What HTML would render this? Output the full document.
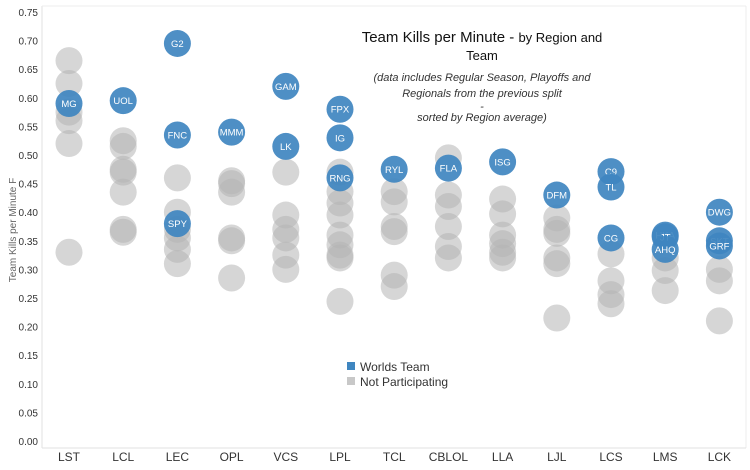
<!DOCTYPE html>
<html><head><meta charset="utf-8"><style>
body{margin:0;background:#fff;font-family:"Liberation Sans",sans-serif;}
svg{display:block}
</style></head><body>
<svg id="chart" width="750" height="470" xmlns="http://www.w3.org/2000/svg">
<rect x="0" y="0" width="750" height="470" fill="#fff"/>
<line x1="42" y1="6" x2="42" y2="448" stroke="#e2e2e2"/>
<line x1="746" y1="6" x2="746" y2="448" stroke="#ececec"/>
<line x1="42" y1="6" x2="746" y2="6" stroke="#ececec"/>
<line x1="42" y1="448" x2="746" y2="448" stroke="#e2e2e2"/>
<g id="yticks"></g><g id="xticks"></g><g id="marks"></g>
<text x="16" y="230" transform="rotate(-90 16 230)" font-size="10" fill="#666" text-anchor="middle">Team Kills per Minute F</text>
<g>
<text x="482" y="42" font-size="15" fill="#111" text-anchor="middle">Team Kills per Minute - <tspan font-size="13">by Region and</tspan></text>
<text x="482" y="60" font-size="13" fill="#111" text-anchor="middle">Team</text>
</g>
<g font-size="11" font-style="italic" fill="#333" text-anchor="middle">
<text x="482" y="81">(data includes Regular Season, Playoffs and</text>
<text x="482" y="97">Regionals from the previous split</text>
<text x="482" y="110">-</text>
<text x="482" y="121">sorted by Region average)</text>
</g>
<g>
<rect x="347" y="362" width="8" height="8" fill="#3f86c0"/>
<text x="360" y="371" font-size="12" fill="#333">Worlds Team</text>
<rect x="347" y="377" width="8" height="8" fill="#c8c8c8"/>
<text x="360" y="386" font-size="12" fill="#333">Not Participating</text>
</g>
</svg>
<script>
const categories=["LST","LCL","LEC","OPL","VCS","LPL","TCL","CBLOL","LLA","LJL","LCS","LMS","LCK"];
const greyValues=[
[0.665,0.625,0.575,0.56,0.52,0.33],
[0.525,0.515,0.475,0.47,0.435,0.37,0.365],
[0.46,0.40,0.37,0.355,0.335,0.31],
[0.455,0.45,0.435,0.355,0.35,0.285],
[0.47,0.395,0.37,0.355,0.325,0.30],
[0.47,0.436,0.416,0.395,0.36,0.343,0.325,0.32,0.244],
[0.436,0.418,0.375,0.366,0.29,0.27],
[0.495,0.43,0.41,0.375,0.34,0.32],
[0.423,0.397,0.36,0.345,0.33,0.32],
[0.39,0.37,0.363,0.32,0.31,0.215],
[0.327,0.28,0.256,0.24],
[0.32,0.298,0.263],
[0.30,0.28,0.21]];
const worldsCat=["LST","LCL","LEC","LEC","LEC","OPL","VCS","VCS","LPL","LPL","LPL","TCL","CBLOL","LLA","LJL","LCS","LCS","LCS","LMS","LMS","LMS","LCK","LCK","LCK"];
const worldsTeam=["MG","UOL","G2","FNC","SPY","MMM","GAM","LK","FPX","IG","RNG","RYL","FLA","ISG","DFM","C9","TL","CG","HKA","JT","AHQ","DWG","SKT","GRF"];
const worldsValue=[0.59,0.595,0.695,0.535,0.38,0.54,0.62,0.515,0.58,0.53,0.46,0.475,0.477,0.488,0.43,0.471,0.444,0.355,0.36,0.357,0.335,0.40,0.35,0.341];
const yTicks=[0,0.05,0.10,0.15,0.20,0.25,0.30,0.35,0.40,0.45,0.50,0.55,0.60,0.65,0.70,0.75];

const NS="http://www.w3.org/2000/svg";
const yScale=v=>441-v*572;
const xScale=c=>69+categories.indexOf(c)*54.2;
function mk(tag,attrs,parent){const e=document.createElementNS(NS,tag);for(const k in attrs)e.setAttribute(k,attrs[k]);parent.appendChild(e);return e;}
const yt=document.getElementById('yticks'),xt=document.getElementById('xticks'),mg=document.getElementById('marks');
yTicks.forEach(v=>{const t=mk('text',{x:38,y:yScale(v)+4,'font-size':10,fill:'#333','text-anchor':'end'},yt);t.textContent=v.toFixed(2);

});
categories.forEach(c=>{const t=mk('text',{x:xScale(c),y:461,'font-size':12,fill:'#333','text-anchor':'middle'},xt);t.textContent=c;

});
greyValues.forEach((arr,i)=>arr.forEach(v=>{const c=mk('circle',{cx:xScale(categories[i]),cy:yScale(v),r:13.5,fill:'#b4b4b4','fill-opacity':0.55},mg);

}));
worldsTeam.forEach((t,i)=>{const g=mk('g',{},mg);


const x=xScale(worldsCat[i]),y=yScale(worldsValue[i]);
mk('circle',{cx:x,cy:y,r:13.5,fill:'#3f86c0','fill-opacity':0.92},g);
const tx=mk('text',{x:x,y:y+3.5,'font-size':9.5,fill:'#fff','text-anchor':'middle'},g);tx.textContent=t;});
</script>
</body></html>
